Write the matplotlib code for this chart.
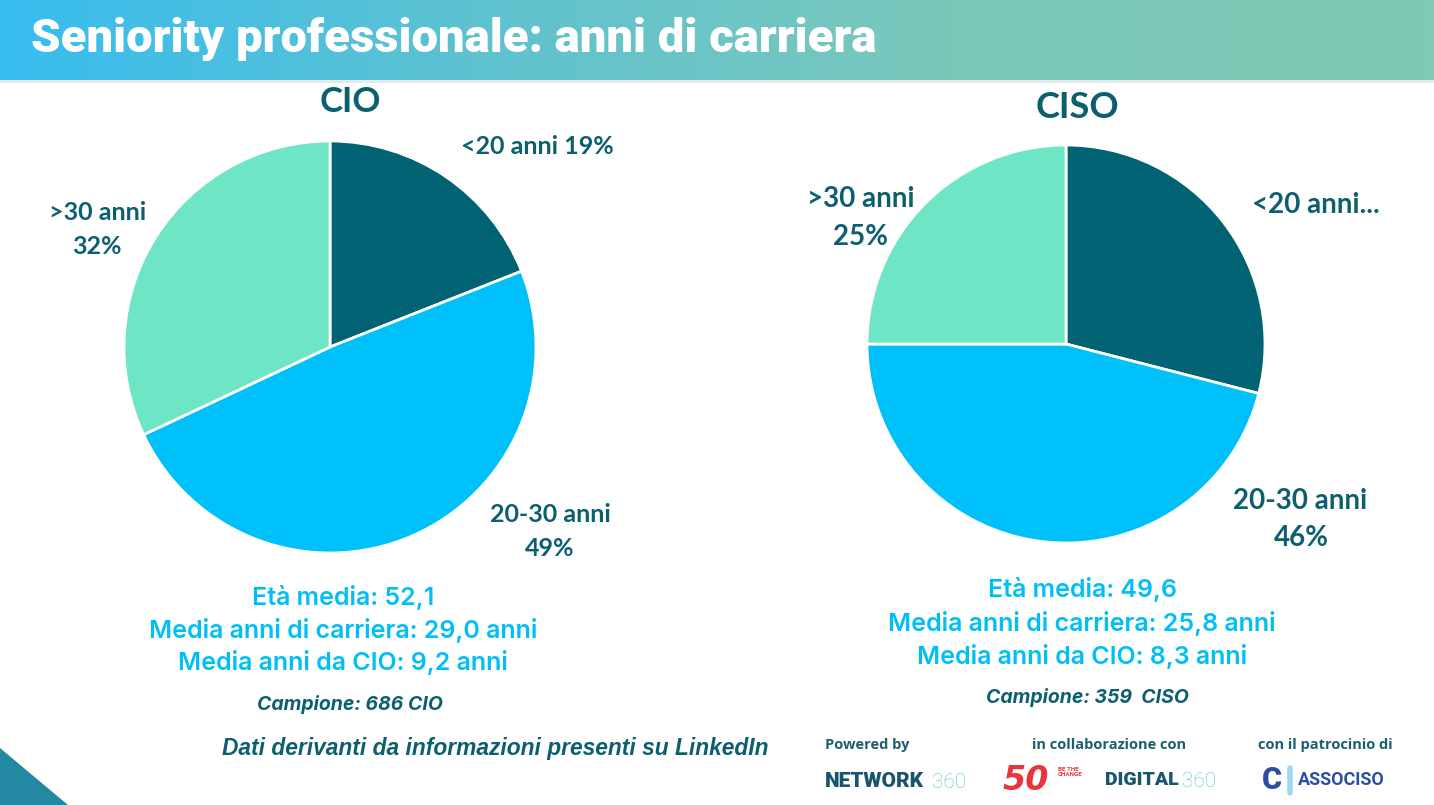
import numpy as np
import matplotlib.pyplot as plt
from matplotlib.colors import LinearSegmentedColormap
from matplotlib.patches import Polygon

# Data
labels = ["<20 anni", "20-30 anni", ">30 anni"]
cio_vals = [19, 49, 32]
ciso_vals = [29, 46, 25]
cio_stats = ["Età media: 52,1",
             "Media anni di carriera: 29,0 anni",
             "Media anni da CIO: 9,2 anni"]
ciso_stats = ["Età media: 49,6",
              "Media anni di carriera: 25,8 anni",
              "Media anni da CIO: 8,3 anni"]
cio_sample = "Campione: 686 CIO"
ciso_sample = "Campione: 359  CISO"

# Style
W, H = 1434, 805
dark = "#006272"
blue = "#00C0FA"
mint = "#6EE5C4"
txt = "#0C5F6F"
stat_c = "#00BFF7"
pie_cols = [dark, blue, mint]

fig = plt.figure(figsize=(W / 100, H / 100), dpi=100)
ax = fig.add_axes([0, 0, 1, 1])


def Y(py):
    # pixel row (top = 0) to data y
    return H - py


# pies
ax.pie(cio_vals, colors=pie_cols, startangle=90, counterclock=False,
       center=(330, Y(347)), radius=206,
       wedgeprops=dict(edgecolor="white", linewidth=2))
ax.pie(ciso_vals, colors=pie_cols, startangle=90, counterclock=False,
       center=(1066, Y(344)), radius=199,
       wedgeprops=dict(edgecolor="white", linewidth=2))

ax.set_xlim(0, W)
ax.set_ylim(0, H)
ax.set_aspect("auto")
ax.axis("off")

# title banner
grad = LinearSegmentedColormap.from_list("g", ["#38BDF0", "#5EC2D0", "#7BC8BA", "#80C9B4"])
ax.imshow(np.linspace(0, 1, 256)[None, :], cmap=grad, aspect="auto",
          extent=(0, W, Y(80), H), zorder=0)
ax.plot([0, W], [Y(81), Y(81)], color="#E6E9EA", lw=2, zorder=1)
ax.text(31, Y(39), "Seniority professionale: anni di carriera", color="white",
        fontsize=34, fontfamily="Roboto", fontweight="heavy", va="center", ha="left")

# bottom-left triangle
ax.add_patch(Polygon([(0, Y(748)), (0, 0), (68, 0)], closed=True, color="#2389A2", lw=0))

lab = dict(color=txt, fontfamily="Lato", fontweight="bold", ha="center", va="center")

# CIO labels
ax.text(350, Y(102), "CIO", fontsize=25, **lab)
ax.text(537, Y(146), labels[0] + " %d%%" % cio_vals[0], fontsize=18, **lab)
ax.text(98, Y(213), labels[2], fontsize=18, **lab)
ax.text(97, Y(246), "%d%%" % cio_vals[2], fontsize=18, **lab)
ax.text(550, Y(515), labels[1], fontsize=18, **lab)
ax.text(550, Y(548), "%d%%" % cio_vals[1], fontsize=18, **lab)

# CISO labels
ax.text(1077, Y(108), "CISO", fontsize=26, **lab)
ax.text(1316, Y(205), labels[0] + "...", fontsize=20, **lab)
ax.text(861, Y(199), labels[2], fontsize=20, **lab)
ax.text(860, Y(237), "%d%%" % ciso_vals[2], fontsize=20, **lab)
ax.text(1300, Y(501), labels[1], fontsize=20, **lab)
ax.text(1301, Y(538), "%d%%" % ciso_vals[1], fontsize=20, **lab)

# stats
st = dict(color=stat_c, fontfamily="Inter", fontweight="semibold", ha="center",
          va="center", fontsize=18)
for i, s in enumerate(cio_stats):
    ax.text(343, Y(598 + 32 * i), s, **st)
for i, s in enumerate(ciso_stats):
    ax.text(1082, Y(590 + 33 * i), s, **st)

smp = dict(color=txt, fontfamily="Inter", fontweight="bold", fontstyle="italic",
           ha="center", va="center", fontsize=14)
ax.text(350, Y(704), cio_sample, **smp)
ax.text(1087, Y(697), ciso_sample, **smp)

ax.text(495, Y(748), "Dati derivanti da informazioni presenti su LinkedIn", color=txt,
        fontfamily="Liberation Sans", fontweight="bold", fontstyle="italic",
        ha="center", va="center", fontsize=16.4)

# footer logos (as text)
ft = dict(color="#1D5E6E", fontfamily="Open Sans", fontweight="bold", va="center", fontsize=10.5)
ax.text(825, Y(745), "Powered by", ha="left", **ft)
ax.text(1109, Y(745), "in collaborazione con", ha="center", **ft)
ax.text(1325, Y(745), "con il patrocinio di", ha="center", **ft)

ax.text(825, Y(781), "NETWORK", color="#17556A", fontfamily="Roboto", fontweight="black",
        fontsize=15, va="center", ha="left")
ax.text(932, Y(782), "360", color="#5CC3C9", fontfamily="Roboto", fontweight="light",
        fontsize=15, va="center", ha="left")

ax.text(1003, Y(780), "50", color="#E8343C", fontfamily="DejaVu Sans", fontweight="bold",
        fontstyle="italic", fontsize=24, va="center", ha="left")
ax.text(1058, Y(772), "BE THE\nCHANGE", color="#E8343C", fontfamily="Roboto",
        fontweight="bold", fontsize=4.5, va="center", ha="left", linespacing=1.0)
ax.text(1105, Y(780), "DIGITAL", color="#17556A", fontfamily="Roboto", fontweight="black",
        fontsize=14, va="center", ha="left")
ax.text(1182, Y(781), "360", color="#5CC3C9", fontfamily="Roboto", fontweight="light",
        fontsize=15, va="center", ha="left")

ax.text(1262, Y(780), "C", color="#2B4EA2", fontfamily="Roboto", fontweight="black",
        fontsize=22, va="center", ha="left")
ax.plot([1290, 1290], [Y(768), Y(793)], color="#9ED8F2", lw=4, solid_capstyle="round")
ax.text(1298, Y(780), "ASSOCISO", color="#2B4EA2", fontfamily="Roboto", fontweight="bold",
        fontsize=13, va="center", ha="left")

plt.savefig("out.png", dpi=100)
